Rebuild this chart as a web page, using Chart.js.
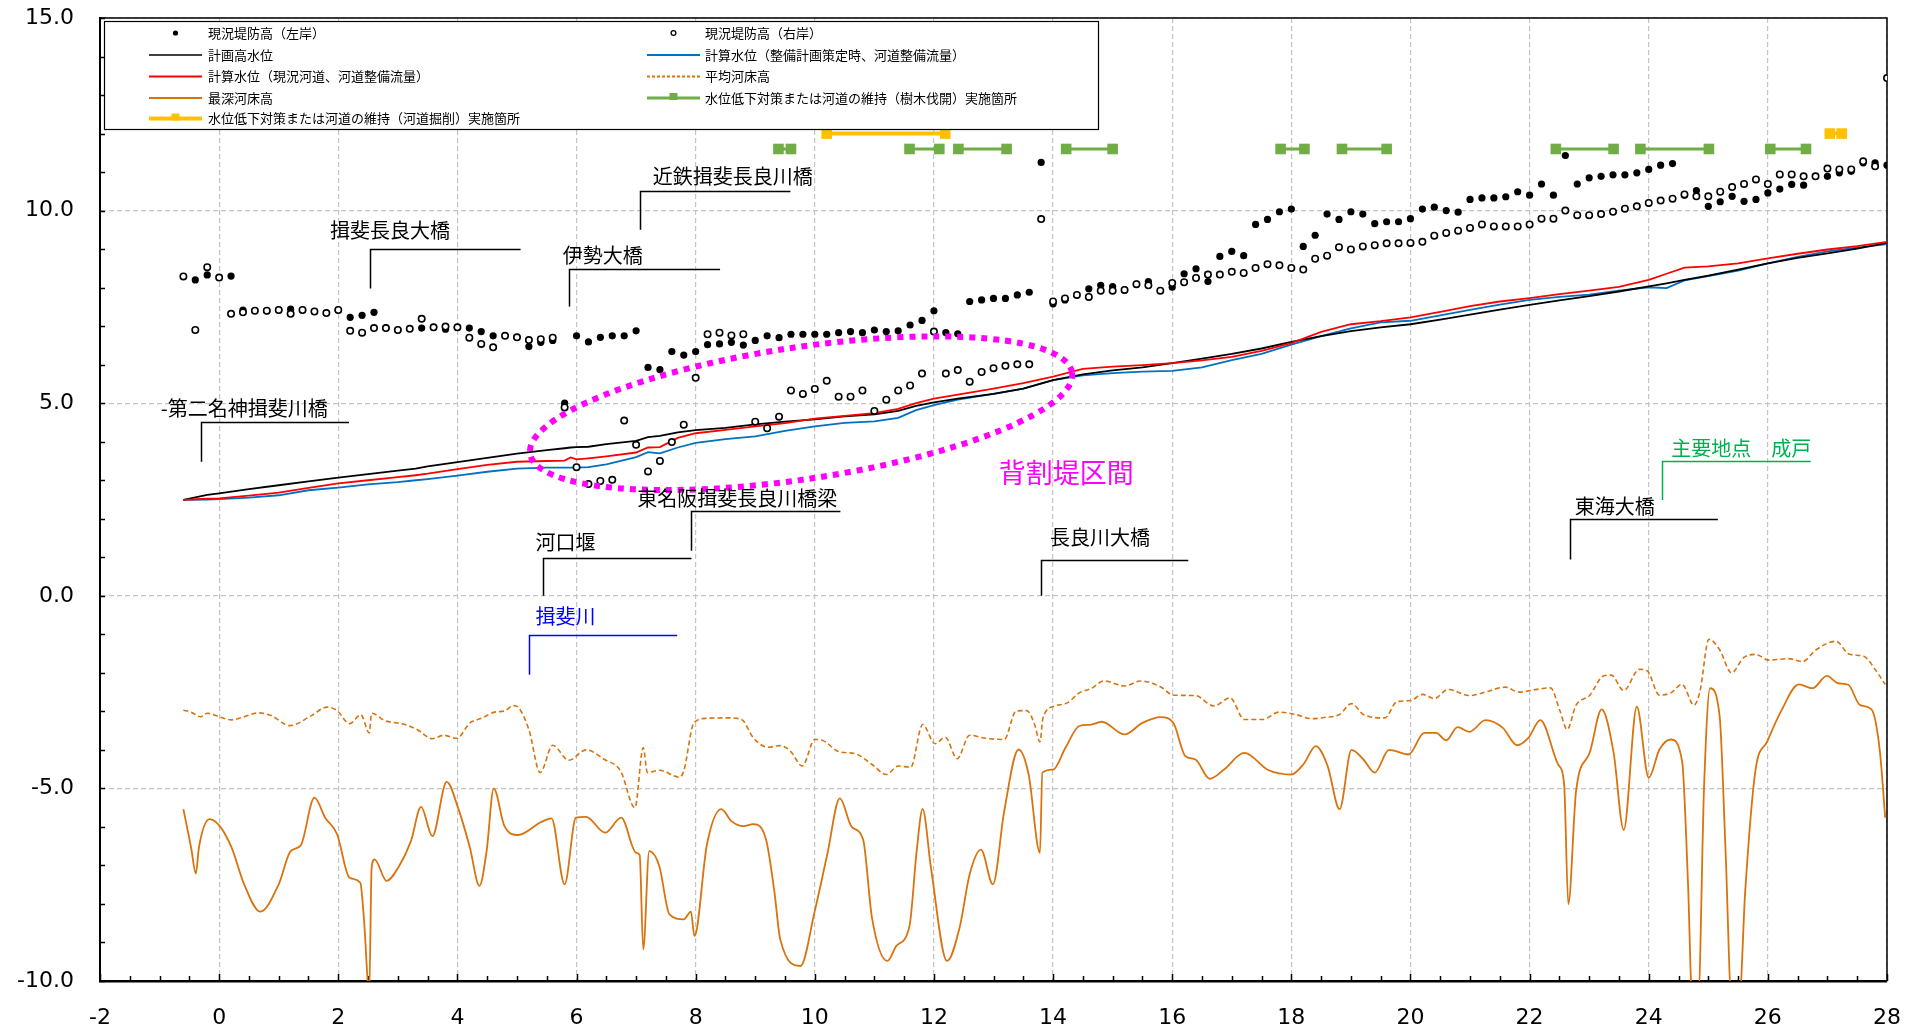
<!DOCTYPE html>
<html>
<head>
<meta charset="utf-8">
<script src="https://cdn.jsdelivr.net/npm/chart.js@4.4.1/dist/chart.umd.min.js"></script>
<style>
  html, body { margin: 0; padding: 0; background: #fff; }
  canvas { display: block; }
</style>
</head>
<body>
<canvas id="profile" width="1921" height="1030"></canvas>
<script>
// 距離標 (km) for the bank survey points
const bankKm = [
  -0.6, -0.4, -0.2, 0.0, 0.2, 0.4, 0.6, 0.8, 1.0, 1.2, 1.4, 1.6, 1.8, 2.0, 2.2, 2.4, 2.6, 2.8,
  3.0, 3.2, 3.4, 3.6, 3.8, 4.0, 4.2, 4.4, 4.6, 4.8, 5.0, 5.2, 5.4, 5.6, 5.8, 6.0, 6.2, 6.4, 6.6, 6.8,
  7.0, 7.2, 7.4, 7.6, 7.8, 8.0, 8.2, 8.4, 8.6, 8.8, 9.0, 9.2, 9.4, 9.6, 9.8, 10.0, 10.2, 10.4, 10.6, 10.8,
  11.0, 11.2, 11.4, 11.6, 11.8, 12.0, 12.2, 12.4, 12.6, 12.8, 13.0, 13.2, 13.4, 13.6, 13.8, 14.0, 14.2, 14.4, 14.6, 14.8,
  15.0, 15.2, 15.4, 15.6, 15.8, 16.0, 16.2, 16.4, 16.6, 16.8, 17.0, 17.2, 17.4, 17.6, 17.8, 18.0, 18.2, 18.4, 18.6, 18.8,
  19.0, 19.2, 19.4, 19.6, 19.8, 20.0, 20.2, 20.4, 20.6, 20.8, 21.0, 21.2, 21.4, 21.6, 21.8, 22.0, 22.2, 22.4, 22.6, 22.8,
  23.0, 23.2, 23.4, 23.6, 23.8, 24.0, 24.2, 24.4, 24.6, 24.8, 25.0, 25.2, 25.4, 25.6, 25.8, 26.0, 26.2, 26.4, 26.6, 26.8,
  27.0, 27.2, 27.4, 27.6, 27.8, 28.0
];
// 現況堤防高（左岸）
const bankLeft = [
  null, 8.20, 8.33, null, 8.30, 7.42, null, 7.40, 7.42, 7.44, 7.42, null, null, 7.42, 7.23, 7.28, 7.36, 6.95,
  6.90, null, 6.95, 6.97, 6.92, 6.97, 6.95, 6.86, 6.75, null, 6.71, 6.47, 6.58, 6.63, 5.00, 6.75, 6.59, 6.71, 6.75, 6.75,
  6.88, 5.93, 5.87, 6.34, 6.25, 6.34, 6.52, 6.54, 6.58, 6.51, 6.63, 6.75, 6.70, 6.79, 6.79, 6.79, 6.79, 6.83, 6.86, 6.83,
  6.90, 6.86, 6.88, 7.03, 7.15, 7.40, 6.83, 6.80, 7.64, 7.68, 7.72, 7.72, 7.81, 7.88, 11.25, 7.58, 7.68, null, 7.97, 8.06,
  8.03, 7.94, 8.09, 8.16, null, 8.01, 8.36, 8.49, 8.16, 8.81, 8.94, 8.83, 9.64, 9.77, 9.97, 10.04, 9.07, 9.36, 9.91, 9.77,
  9.97, 9.91, 9.66, 9.71, 9.71, 9.79, 10.04, 10.09, 10.00, 9.96, 10.29, 10.33, 10.33, 10.36, 10.49, 10.40, 10.69, 10.40, 11.43, 10.69,
  10.85, 10.89, 10.93, 10.93, 10.98, 11.07, 11.18, 11.22, 10.40, 10.52, 10.11, 10.23, 10.37, 10.24, 10.29, 10.46, 10.56, 10.68, 10.66, null,
  10.89, 10.98, 11.02, 11.24, 11.24, 11.18
];
// 現況堤防高（右岸）
const bankRight = [
  8.29, 6.90, 8.53, 8.26, 7.32, 7.36, 7.40, 7.40, 7.42, 7.32, 7.42, 7.38, 7.34, 7.42, 6.88, 6.83, 6.95, 6.95,
  6.90, 6.93, 7.19, 6.97, 6.99, 6.97, 6.70, 6.54, 6.45, 6.75, 6.71, 6.64, 6.66, 6.70, 4.89, 3.34, 2.90, 2.98, 3.01, 4.55,
  3.92, 3.23, 3.50, 3.99, 4.44, 5.66, 6.79, 6.83, 6.76, 6.79, 4.52, 4.35, 4.65, 5.33, 5.24, 5.37, 5.58, 5.17, 5.17, 5.33,
  4.80, 5.09, 5.33, 5.46, 5.77, 6.86, 5.77, 5.86, 5.56, 5.81, 5.91, 5.97, 6.01, 6.01, 9.78, 7.64, 7.72, 7.81, 7.76, 7.92,
  7.92, 7.94, 8.09, 8.06, 7.92, 8.12, 8.14, 8.25, 8.34, 8.34, 8.41, 8.38, 8.51, 8.61, 8.58, 8.51, 8.47, 8.75, 8.83, 9.05,
  8.99, 9.07, 9.10, 9.15, 9.15, 9.16, 9.19, 9.35, 9.42, 9.48, 9.55, 9.64, 9.59, 9.59, 9.59, 9.64, 9.79, 9.79, 10.00, 9.88,
  9.88, 9.91, 9.97, 10.05, 10.11, 10.20, 10.26, 10.31, 10.42, 10.37, 10.37, 10.49, 10.61, 10.69, 10.81, 10.69, 10.94, 10.94, 10.89, 10.89,
  11.09, 11.07, 11.07, 11.28, 11.15, 13.44
];

// water level profiles
const wlKm = [
  -0.6, -0.2, 0.0, 0.5, 1.0, 1.5, 2.0, 2.5, 3.0, 3.3, 3.5, 4.0, 4.5, 5.0, 5.5, 5.8, 5.9, 6.0, 6.2, 6.5,
  7.0, 7.2, 7.4, 7.7, 8.0, 8.5, 9.0, 9.5, 10.0, 10.5, 11.0, 11.4, 11.7, 12.0, 12.4, 13.0, 13.5, 14.0, 14.5, 15.0,
  15.5, 16.0, 16.5, 17.0, 17.5, 18.0, 18.5, 19.0, 19.5, 20.0, 20.5, 21.0, 21.5, 22.0, 22.5, 23.0, 23.5, 24.0, 24.3, 24.6,
  25.0, 25.5, 26.0, 26.5, 27.0, 27.5, 28.0
];
// 計画高水位
const hwl = [
  2.49, 2.62, 2.66, 2.77, 2.87, 2.97, 3.07, 3.16, 3.25, 3.30, 3.36, 3.47, 3.58, 3.69, 3.78, 3.83, 3.85, 3.86, 3.87, 3.94,
  4.02, 4.12, 4.15, 4.24, 4.30, 4.36, 4.45, 4.52, 4.58, 4.66, 4.71, 4.80, 4.93, 5.02, 5.12, 5.24, 5.38, 5.60, 5.75, 5.85,
  5.93, 6.04, 6.16, 6.28, 6.42, 6.59, 6.74, 6.87, 6.97, 7.05, 7.17, 7.30, 7.43, 7.55, 7.67, 7.78, 7.90, 8.03, 8.11, 8.20,
  8.31, 8.47, 8.63, 8.77, 8.89, 9.01, 9.16
];
// 計算水位（整備計画策定時、河道整備流量）
const wlPlan = [
  2.49, 2.50, 2.51, 2.55, 2.61, 2.74, 2.81, 2.89, 2.95, 3.00, 3.03, 3.12, 3.22, 3.30, 3.33, 3.33, 3.33, 3.33, 3.34, 3.41,
  3.60, 3.73, 3.70, 3.85, 3.97, 4.07, 4.14, 4.28, 4.40, 4.49, 4.53, 4.62, 4.82, 4.95, 5.09, 5.24, 5.38, 5.60, 5.72, 5.78,
  5.82, 5.84, 5.93, 6.12, 6.28, 6.52, 6.74, 6.94, 7.10, 7.14, 7.28, 7.42, 7.56, 7.68, 7.76, 7.82, 7.92, 8.01, 7.99, 8.19,
  8.30, 8.44, 8.63, 8.80, 8.94, 9.04, 9.13
];
// 計算水位（現況河道、河道整備流量）
const wlNow = [
  2.49, 2.52, 2.53, 2.60, 2.68, 2.80, 2.92, 3.00, 3.08, 3.13, 3.17, 3.29, 3.40, 3.48, 3.50, 3.51, 3.59, 3.54, 3.57, 3.62,
  3.72, 3.85, 3.86, 4.10, 4.22, 4.31, 4.40, 4.48, 4.60, 4.67, 4.74, 4.85, 5.00, 5.12, 5.22, 5.38, 5.52, 5.69, 5.89, 5.95,
  5.99, 6.04, 6.11, 6.20, 6.36, 6.56, 6.85, 7.05, 7.13, 7.23, 7.37, 7.52, 7.64, 7.73, 7.83, 7.92, 8.02, 8.20, 8.36, 8.52,
  8.55, 8.63, 8.76, 8.88, 8.99, 9.08, 9.19
];

// 平均河床高
const meanBedKm = [
  -0.6, -0.47, -0.31, -0.2, 0.0, 0.21, 0.42, 0.66, 0.86, 1.19, 1.55, 1.81, 1.98, 2.19, 2.38, 2.52, 2.56, 2.78, 3.12, 3.32,
  3.58, 3.77, 3.99, 4.21, 4.42, 4.62, 4.79, 4.94, 5.03, 5.2, 5.39, 5.6, 5.87, 6.16, 6.47, 6.74, 6.98, 7.12, 7.19, 7.39,
  7.73, 7.8, 7.97, 8.18, 8.55, 8.77, 8.97, 9.21, 9.42, 9.59, 9.79, 10.0, 10.14, 10.41, 10.68, 10.96, 11.2, 11.4, 11.61, 11.81,
  12.02, 12.19, 12.39, 12.6, 12.87, 13.18, 13.38, 13.56, 13.69, 13.78, 13.83, 14.03, 14.24, 14.44, 14.65, 14.85, 15.2, 15.47, 15.81, 16.02,
  16.39, 16.7, 16.97, 17.21, 17.52, 17.79, 18.07, 18.34, 18.55, 18.81, 19.01, 19.21, 19.57, 19.77, 20.0, 20.2, 20.4, 20.63, 20.99, 21.26,
  21.59, 21.82, 22.12, 22.35, 22.51, 22.63, 22.78, 23.01, 23.24, 23.37, 23.58, 23.84, 23.97, 24.18, 24.37, 24.56, 24.76, 24.86, 25.01, 25.19,
  25.39, 25.59, 25.79, 26.02, 26.35, 26.58, 26.81, 27.14, 27.37, 27.61, 27.8, 27.97
];
const meanBed = [
  -2.97, -3.02, -3.14, -3.05, -3.14, -3.22, -3.14, -3.04, -3.10, -3.37, -3.11, -2.89, -2.98, -3.32, -3.09, -3.56, -3.05, -3.24, -3.34, -3.47,
  -3.71, -3.62, -3.70, -3.30, -3.17, -3.02, -2.99, -2.85, -2.91, -3.47, -4.59, -3.88, -4.27, -4.00, -4.25, -4.55, -5.50, -3.94, -4.59, -4.53,
  -4.71, -4.55, -3.30, -3.18, -3.17, -3.21, -3.69, -3.93, -3.89, -4.03, -4.42, -3.73, -3.76, -4.05, -4.10, -4.38, -4.64, -4.42, -4.45, -3.34,
  -3.84, -3.67, -4.23, -3.62, -3.70, -3.73, -2.99, -2.98, -3.34, -3.79, -3.17, -2.86, -2.78, -2.52, -2.40, -2.21, -2.34, -2.21, -2.37, -2.58,
  -2.59, -2.86, -2.65, -3.21, -3.21, -3.02, -3.08, -3.19, -3.16, -3.08, -2.80, -3.08, -3.17, -2.75, -2.72, -2.56, -2.67, -2.43, -2.59, -2.50,
  -2.37, -2.50, -2.43, -2.39, -2.99, -3.47, -2.84, -2.58, -2.08, -2.06, -2.46, -1.91, -1.94, -2.58, -2.52, -2.30, -2.84, -2.48, -1.13, -1.40,
  -2.00, -1.61, -1.52, -1.67, -1.63, -1.71, -1.40, -1.18, -1.52, -1.57, -1.91, -2.30
];

// 最深河床高
const deepBedKm = [
  -0.6, -0.47, -0.39, -0.34, -0.16, 0.01, 0.21, 0.42, 0.69, 1.0, 1.2, 1.37, 1.6, 1.78, 1.98, 2.19, 2.37, 2.43, 2.52, 2.56,
  2.61, 2.81, 3.02, 3.22, 3.39, 3.58, 3.82, 4.01, 4.21, 4.37, 4.49, 4.61, 4.79, 5.02, 5.41, 5.58, 5.8, 5.99, 6.16, 6.48,
  6.75, 7.0, 7.06, 7.12, 7.22, 7.39, 7.56, 7.8, 7.92, 7.98, 8.19, 8.43, 8.6, 8.8, 8.97, 9.18, 9.32, 9.42, 9.76, 10.0,
  10.21, 10.42, 10.62, 10.81, 10.96, 11.22, 11.37, 11.59, 11.71, 11.81, 11.95, 12.22, 12.43, 12.6, 12.79, 12.99, 13.18, 13.42, 13.59, 13.78,
  13.82, 14.0, 14.21, 14.44, 14.62, 14.82, 15.2, 15.5, 15.81, 16.02, 16.22, 16.39, 16.63, 16.87, 17.21, 17.62, 18.0, 18.21, 18.41, 18.61,
  18.81, 19.01, 19.21, 19.4, 19.64, 19.97, 20.23, 20.43, 20.6, 20.79, 20.99, 21.26, 21.55, 21.79, 21.98, 22.18, 22.48, 22.58, 22.65, 22.78,
  23.01, 23.21, 23.41, 23.58, 23.8, 24.0, 24.18, 24.37, 24.56, 24.66, 24.73, 24.83, 24.93, 25.03, 25.19, 25.29, 25.39, 25.52, 25.62, 25.79,
  25.99, 26.22, 26.52, 26.75, 26.99, 27.18, 27.35, 27.55, 27.74, 27.88, 27.97
];
const deepBed = [
  -5.54, -6.54, -7.21, -6.54, -5.80, -5.98, -6.54, -7.49, -8.20, -7.49, -6.63, -6.48, -5.24, -5.76, -6.19, -7.32, -7.45, -8.36, -10.30, -7.06,
  -6.84, -7.40, -7.02, -6.37, -5.48, -6.24, -4.83, -5.50, -6.54, -7.53, -6.63, -5.00, -5.98, -6.21, -5.87, -5.78, -7.49, -5.76, -5.74, -6.15,
  -5.76, -6.67, -6.73, -9.18, -6.63, -7.02, -8.27, -8.40, -8.20, -8.83, -6.45, -5.54, -5.85, -5.98, -5.93, -6.32, -7.66, -8.92, -9.61, -8.18,
  -6.71, -5.26, -6.00, -6.32, -8.36, -9.48, -9.09, -8.57, -6.63, -5.53, -7.06, -9.48, -8.62, -7.23, -6.59, -7.49, -5.59, -3.99, -4.64, -6.67,
  -4.59, -4.51, -3.94, -3.38, -3.35, -3.27, -3.60, -3.30, -3.15, -3.30, -4.16, -4.25, -4.75, -4.51, -4.08, -4.53, -4.64, -4.36, -3.90, -4.42,
  -5.54, -4.00, -4.25, -4.59, -4.00, -4.12, -3.56, -3.56, -3.75, -3.41, -3.53, -3.23, -3.43, -3.88, -3.69, -3.23, -4.38, -4.90, -8.01, -5.07,
  -4.07, -2.95, -4.07, -6.08, -2.88, -4.72, -3.99, -3.73, -4.29, -7.49, -10.50, -10.50, -4.90, -2.40, -3.12, -6.63, -10.50, -10.50, -7.66, -4.55,
  -3.78, -3.00, -2.30, -2.40, -2.08, -2.27, -2.31, -2.84, -2.95, -4.03, -5.76
];

// 水位低下対策または河道の維持 実施箇所 (start / end km, plotted level)
const treeCutFrom = [9.39, 11.59, 12.41, 14.22, 17.82, 18.85, 22.44, 23.86, 26.04];
const treeCutTo = [9.60, 12.09, 13.22, 15.00, 18.22, 19.60, 23.41, 25.01, 26.64];
const treeCutLevel = 11.6;
const dredgeFrom = [10.20, 27.04];
const dredgeTo = [12.19, 27.24];
const dredgeLevel = 12.0;

const xTicks = { min: -2, max: 28, step: 2 };
const yTicks = { min: -10, max: 15, step: 5 };

const C = {
  black: "#000000",
  blue: "#0070c0",
  red: "#ff0000",
  bed: "#d9730d",
  green: "#70ad47",
  yellow: "#ffc000",
  magenta: "#ff00ff",
};

function pts(xs, ys) {
  return xs.map((x, i) => ({ x: x, y: ys[i] }));
}

function segments(from, to, level) {
  const out = [];
  from.forEach((a, i) => {
    out.push({ x: a, y: level }, { x: to[i], y: level }, { x: to[i], y: null });
  });
  return out;
}

// callouts for bridges and places (x in km, y in m, gap in px)
const callouts = [
  { text: "-第二名神揖斐川橋", tx: -0.98, vx: -0.31, y1: 4.51, y0: 3.48, x2: 2.18, gap: 4, color: C.black },
  { text: "揖斐長良大橋", tx: 1.86, vx: 2.53, y1: 9.01, y0: 7.98, x2: 5.06, gap: 9, color: C.black },
  { text: "近鉄揖斐長良川橋", tx: 7.28, vx: 7.06, y1: 10.52, y0: 9.5, x2: 9.59, gap: 5, color: C.black },
  { text: "伊勢大橋", tx: 5.77, vx: 5.88, y1: 8.49, y0: 7.51, x2: 8.41, gap: 4, color: C.black },
  { text: "東名阪揖斐長良川橋梁", tx: 7.02, vx: 7.93, y1: 2.2, y0: 1.17, x2: 10.43, gap: 3, color: C.black },
  { text: "河口堰", tx: 5.31, vx: 5.44, y1: 0.97, y0: 0.0, x2: 7.93, gap: 6, color: C.black },
  { text: "揖斐川", tx: 5.31, vx: 5.21, y1: -1.01, y0: -2.05, x2: 7.69, gap: 9, color: "#0000ff" },
  { text: "長良川大橋", tx: 13.95, vx: 13.8, y1: 0.94, y0: 0.0, x2: 16.27, gap: 13, color: C.black },
  { text: "東海大橋", tx: 22.76, vx: 22.68, y1: 1.99, y0: 0.94, x2: 25.16, gap: 3, color: C.black },
  { text: "主要地点　成戸", tx: 24.38, vx: 24.23, y1: 3.5, y0: 2.49, x2: 26.72, gap: 3, color: "#00b050" },
];

const JP = "'Noto Sans CJK JP', 'Noto Sans', sans-serif";

const overlay = {
  id: "overlay",
  beforeDatasetsDraw(chart) {
    const { ctx, chartArea: a, scales } = chart;
    const x = scales.x, y = scales.y;
    ctx.save();
    ctx.strokeStyle = "#000";
    ctx.lineWidth = 1.5;
    ctx.beginPath();
    for (let v = yTicks.min; v <= yTicks.max; v += 1) {
      const py = Math.round(y.getPixelForValue(v)) + 0.5;
      ctx.moveTo(a.left, py);
      ctx.lineTo(a.left + 5, py);
    }
    for (let v = xTicks.min; v <= xTicks.max; v += 0.5) {
      const px = Math.round(x.getPixelForValue(v)) + 0.5;
      ctx.moveTo(px, a.bottom);
      ctx.lineTo(px, a.bottom - (v % 2 === 0 ? 7 : 5));
    }
    ctx.stroke();
    // top and right frame
    ctx.lineWidth = 1.5;
    ctx.beginPath();
    ctx.moveTo(a.left, a.top);
    ctx.lineTo(a.right, a.top);
    ctx.lineTo(a.right, a.bottom);
    ctx.stroke();
    ctx.restore();
  },
  afterDatasetsDraw(chart) {
    const { ctx, scales } = chart;
    const x = scales.x, y = scales.y;
    ctx.save();
    // 背割堤区間
    ctx.strokeStyle = C.magenta;
    ctx.lineWidth = 6;
    ctx.setLineDash([6, 6]);
    ctx.beginPath();
    ctx.ellipse(x.getPixelForValue(9.77), y.getPixelForValue(4.74), 274, 66, -8.5 * Math.PI / 180, 0, 2 * Math.PI);
    ctx.stroke();
    ctx.setLineDash([]);
    ctx.fillStyle = C.magenta;
    ctx.font = "27px " + JP;
    ctx.textAlign = "center";
    ctx.textBaseline = "middle";
    ctx.fillText("背割堤区間", x.getPixelForValue(14.22), y.getPixelForValue(3.2));

    ctx.textAlign = "left";
    ctx.textBaseline = "bottom";
    ctx.font = "20px " + JP;
    ctx.lineWidth = 1.5;
    callouts.forEach((c) => {
      const vx = Math.round(x.getPixelForValue(c.vx)) + 0.5;
      const hy = Math.round(y.getPixelForValue(c.y1)) + 0.5;
      ctx.strokeStyle = c.color;
      ctx.beginPath();
      ctx.moveTo(vx, y.getPixelForValue(c.y0));
      ctx.lineTo(vx, hy);
      ctx.lineTo(x.getPixelForValue(c.x2), hy);
      ctx.stroke();
      ctx.fillStyle = c.color;
      ctx.fillText(c.text, x.getPixelForValue(c.tx), hy - c.gap);
    });
    ctx.restore();
  },
  afterDraw(chart) {
    const { ctx, chartArea: a } = chart;
    const L = { left: a.left + 4, top: a.top + 3, w: 994, h: 108 };
    ctx.save();
    ctx.fillStyle = "#fff";
    ctx.fillRect(L.left, L.top, L.w, L.h);
    ctx.strokeStyle = "#000";
    ctx.lineWidth = 1.2;
    ctx.strokeRect(L.left + 0.5, L.top + 0.5, L.w, L.h);

    const rows = [12, 34, 55.5, 77, 97.5].map((r) => L.top + r);
    const cols = [{ x0: L.left + 45, x1: L.left + 98, tx: L.left + 104 },
                  { x0: L.left + 543, x1: L.left + 596, tx: L.left + 601 }];
    const items = [
      { r: 0, c: 0, kind: "dot", label: "現況堤防高（左岸）" },
      { r: 0, c: 1, kind: "ring", label: "現況堤防高（右岸）" },
      { r: 1, c: 0, kind: "line", color: C.black, w: 1.5, label: "計画高水位" },
      { r: 1, c: 1, kind: "line", color: C.blue, w: 1.8, label: "計算水位（整備計画策定時、河道整備流量）" },
      { r: 2, c: 0, kind: "line", color: C.red, w: 1.8, label: "計算水位（現況河道、河道整備流量）" },
      { r: 2, c: 1, kind: "line", color: C.bed, w: 1.8, dash: [3, 2], label: "平均河床高" },
      { r: 3, c: 0, kind: "line", color: C.bed, w: 1.8, label: "最深河床高" },
      { r: 3, c: 1, kind: "seg", color: C.green, w: 3, label: "水位低下対策または河道の維持（樹木伐開）実施箇所" },
      { r: 4, c: 0, kind: "seg", color: C.yellow, w: 4, label: "水位低下対策または河道の維持（河道掘削）実施箇所" },
    ];
    ctx.font = "13px " + JP;
    ctx.textBaseline = "middle";
    items.forEach((it) => {
      const col = cols[it.c];
      const yy = rows[it.r];
      const mx = (col.x0 + col.x1) / 2;
      if (it.kind === "dot") {
        ctx.fillStyle = "#000";
        ctx.beginPath();
        ctx.arc(mx, yy, 2.6, 0, Math.PI * 2);
        ctx.fill();
      } else if (it.kind === "ring") {
        ctx.strokeStyle = "#000";
        ctx.lineWidth = 1.3;
        ctx.beginPath();
        ctx.arc(mx, yy, 2.4, 0, Math.PI * 2);
        ctx.stroke();
      } else {
        ctx.strokeStyle = it.color;
        ctx.lineWidth = it.w;
        ctx.setLineDash(it.dash || []);
        ctx.beginPath();
        ctx.moveTo(col.x0, yy);
        ctx.lineTo(col.x1, yy);
        ctx.stroke();
        ctx.setLineDash([]);
        if (it.kind === "seg") {
          ctx.fillStyle = it.color;
          ctx.fillRect(mx - 4, yy - 5, 8, 7);
        }
      }
      ctx.fillStyle = "#000";
      ctx.fillText(it.label, col.tx, yy);
    });
    ctx.restore();
  },
};

const lineBase = { pointRadius: 0, fill: false, tension: 0 };

new Chart(document.getElementById("profile"), {
  type: "line",
  data: {
    datasets: [
      {
        label: "現況堤防高（右岸）",
        data: pts(bankKm, bankRight),
        showLine: false,
        pointStyle: "circle",
        pointRadius: 3.2,
        pointBorderWidth: 1.6,
        pointBackgroundColor: "#fff",
        pointBorderColor: "#000",
        order: 0,
      },
      {
        label: "現況堤防高（左岸）",
        data: pts(bankKm, bankLeft),
        showLine: false,
        pointStyle: "circle",
        pointRadius: 3.6,
        pointBorderWidth: 0,
        pointBackgroundColor: "#000",
        pointBorderColor: "#000",
        order: 1,
      },
      { label: "水位低下対策または河道の維持（河道掘削）実施箇所", data: segments(dredgeFrom, dredgeTo, dredgeLevel),
        borderColor: C.yellow, borderWidth: 4, pointStyle: "rect", pointRadius: 7.5, pointBackgroundColor: C.yellow,
        pointBorderWidth: 0, spanGaps: false, fill: false, tension: 0, order: 2 },
      { label: "水位低下対策または河道の維持（樹木伐開）実施箇所", data: segments(treeCutFrom, treeCutTo, treeCutLevel),
        borderColor: C.green, borderWidth: 3, pointStyle: "rect", pointRadius: 7.5, pointBackgroundColor: C.green,
        pointBorderWidth: 0, spanGaps: false, fill: false, tension: 0, order: 3 },
      Object.assign({}, lineBase, { label: "計算水位（現況河道、河道整備流量）", data: pts(wlKm, wlNow), borderColor: C.red, borderWidth: 1.8, order: 4 }),
      Object.assign({}, lineBase, { label: "計画高水位", data: pts(wlKm, hwl), borderColor: C.black, borderWidth: 1.8, order: 5 }),
      Object.assign({}, lineBase, { label: "計算水位（整備計画策定時、河道整備流量）", data: pts(wlKm, wlPlan), borderColor: C.blue, borderWidth: 1.8, order: 6 }),
      Object.assign({}, lineBase, { label: "平均河床高", data: pts(meanBedKm, meanBed), borderColor: C.bed, borderWidth: 1.6,
        borderDash: [5, 3], cubicInterpolationMode: "monotone", order: 7 }),
      Object.assign({}, lineBase, { label: "最深河床高", data: pts(deepBedKm, deepBed), borderColor: C.bed, borderWidth: 1.8,
        cubicInterpolationMode: "monotone", order: 8 }),
    ],
  },
  options: {
    responsive: false,
    animation: false,
    devicePixelRatio: 1,
    layout: { padding: { top: 18, right: 34, left: 0, bottom: 0 } },
    plugins: { legend: { display: false }, tooltip: { enabled: false } },
    elements: { point: { hoverRadius: 0 } },
    scales: {
      x: {
        type: "linear",
        min: xTicks.min,
        max: xTicks.max,
        ticks: {
          stepSize: xTicks.step,
          color: "#000",
          padding: 24,
          maxRotation: 0,
          font: { family: "'DejaVu Sans', Verdana, sans-serif", size: 22 },
          callback: (v) => String(v),
        },
        grid: { color: "#c4c4c4", lineWidth: 1.2, drawTicks: false },
        border: { display: true, color: "#000", width: 2.5, dash: [5, 3] },
        afterFit: (s) => { s.height = 49; s.paddingLeft = 0; s.paddingRight = 0; },
      },
      y: {
        min: yTicks.min,
        max: yTicks.max,
        ticks: {
          stepSize: yTicks.step,
          color: "#000",
          padding: 26,
          font: { family: "'DejaVu Sans', Verdana, sans-serif", size: 22 },
          callback: (v) => Number(v).toFixed(1),
        },
        grid: { color: "#c4c4c4", lineWidth: 1.2, drawTicks: false },
        border: { display: true, color: "#000", width: 2, dash: [5, 3] },
        afterFit: (s) => { s.width = 100; s.paddingTop = 0; s.paddingBottom = 0; },
      },
    },
  },
  plugins: [overlay],
});
</script>
</body>
</html>
